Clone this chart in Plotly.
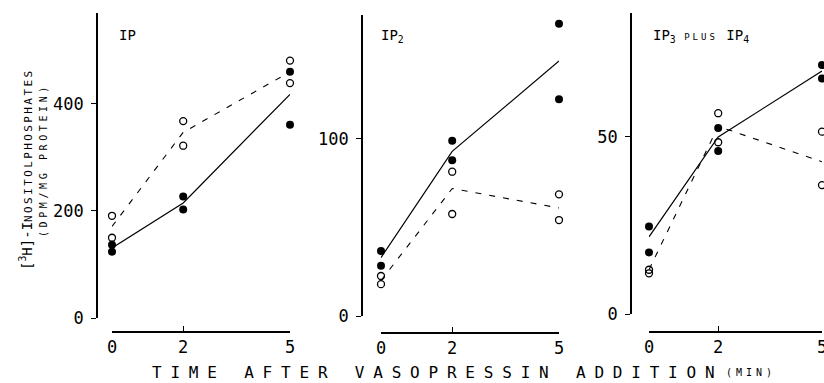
import plotly.graph_objects as go

W, H = 824, 383

# ---------------- data ----------------
point_times = [0, 0, 2, 2, 5, 5]
line_times = [0, 2, 5]
x_ticks = [0, 2, 5]

ip_filled = [137, 124, 227, 203, 460, 361]
ip_open = [191, 150, 368, 322, 481, 439]
ip_solid = [131, 215, 418]
ip_dashed = [171, 347, 460]

ip2_filled = [36.7, 28.4, 99, 88, 165, 122.4]
ip2_open = [22.6, 18, 81.5, 57.6, 68.7, 54.2]
ip2_solid = [33, 93, 144]
ip2_dashed = [20, 72, 61]

ip34_filled = [24.7, 17.4, 52.5, 46, 70.3, 66.5]
ip34_open = [12.5, 11.5, 56.7, 48.5, 51.5, 36.4]
ip34_solid = [21.8, 50, 68.6]
ip34_dashed = [12.5, 53, 43]

panel_titles = [
    "IP",
    "IP<sub>2</sub>",
    "IP<sub>3</sub> <span style='font-size:9px;letter-spacing:3px'>PLUS</span> IP<sub>4</sub>",
]
y_ticks = [[0, 200, 400], [0, 100], [0, 50]]
y_ranges = [[0, 570], [0, 170], [0, 85]]

y_title_1 = "[<sup>3</sup>H]-I<span style='font-size:11px;letter-spacing:2.4px'>NOSITOLPHOSPHATES</span>"
y_title_2 = "(DPM/MG PROTEIN)"
x_title = "TIME AFTER VASOPRESSIN ADDITION"
x_title_unit = "(MIN)"

# ---------------- geometry (pixels) ----------------
def px(x):
    return x / W


def py(y):
    return 1 - y / H


panels = [
    dict(x0=112, x1=290, yaxis_x=97, y0=318, y1=13, xline=332),
    dict(x0=381, x1=559, yaxis_x=362, y0=316, y1=15, xline=333),
    dict(x0=649, x1=822, yaxis_x=631, y0=314, y1=13, xline=332),
]

series = [
    (ip_filled, ip_open, ip_solid, ip_dashed),
    (ip2_filled, ip2_open, ip2_solid, ip2_dashed),
    (ip34_filled, ip34_open, ip34_solid, ip34_dashed),
]

FONT = "DejaVu Sans Mono"
fig = go.Figure()
layout = dict(
    template="none",
    width=W, height=H,
    margin=dict(l=0, r=0, t=0, b=0, pad=0, autoexpand=False),
    paper_bgcolor="white", plot_bgcolor="white",
    showlegend=False,
    font=dict(family=FONT, color="black"),
)
annotations = []

for i, (p, (filled, opn, solid, dashed)) in enumerate(zip(panels, series)):
    n = "" if i == 0 else str(i + 1)
    xa, ya = "x" + n, "y" + n
    fig.add_trace(go.Scatter(x=line_times, y=solid, xaxis=xa, yaxis=ya, mode="lines",
                             line=dict(color="black", width=1.2), cliponaxis=False))
    fig.add_trace(go.Scatter(x=line_times, y=dashed, xaxis=xa, yaxis=ya, mode="lines",
                             line=dict(color="black", width=1.1, dash="6px,8px"), cliponaxis=False))
    fig.add_trace(go.Scatter(x=point_times, y=filled, xaxis=xa, yaxis=ya, mode="markers",
                             marker=dict(symbol="circle", size=8, color="black"), cliponaxis=False))
    fig.add_trace(go.Scatter(x=point_times, y=opn, xaxis=xa, yaxis=ya, mode="markers",
                             marker=dict(symbol="circle-open", size=7, color="black",
                                         line=dict(width=1.3, color="black")), cliponaxis=False))

    layout["xaxis" + n] = dict(
        domain=[px(p["x0"]), px(p["x1"])], range=[0, 5],
        anchor="free", position=py(p["xline"]), automargin=False,
        tickvals=x_ticks, ticktext=[str(t) for t in x_ticks],
        ticks="inside", ticklen=5, tickwidth=1.3, tickcolor="black",
        ticklabeloverflow="allow",
        showline=True, linecolor="black", linewidth=1.6,
        showgrid=False, zeroline=False,
        tickfont=dict(family=FONT, size=17, color="black"),
    )
    layout["yaxis" + n] = dict(
        domain=[py(p["y0"]), py(p["y1"])], range=y_ranges[i],
        anchor="free", position=px(p["yaxis_x"]), automargin=False,
        tickvals=y_ticks[i], ticktext=[str(t) for t in y_ticks[i]],
        ticks="outside", ticklen=5, tickwidth=1.3, tickcolor="black",
        ticklabelstandoff=4, ticklabeloverflow="allow",
        showline=True, linecolor="black", linewidth=1.6,
        showgrid=False, zeroline=False,
        tickfont=dict(family=FONT, size=17, color="black"),
    )
    title_x = [117, 379, 651][i]
    annotations.append(dict(
        text=panel_titles[i], xref="paper", yref="paper",
        x=px(title_x), y=py(25), xanchor="left", yanchor="top",
        showarrow=False, font=dict(family=FONT, size=14, color="black"),
    ))

# y-axis title (two lines, rotated)
annotations.append(dict(
    text=y_title_1, xref="paper", yref="paper", x=px(26), y=py(170),
    xanchor="center", yanchor="middle", textangle=-90, showarrow=False,
    font=dict(family=FONT, size=14, color="black"),
))
annotations.append(dict(
    text="<span style='letter-spacing:3.6px'>" + y_title_2 + "</span>",
    xref="paper", yref="paper", x=px(43), y=py(160),
    xanchor="center", yanchor="middle", textangle=-90, showarrow=False,
    font=dict(family=FONT, size=10, color="black"),
))
# x-axis title
annotations.append(dict(
    text="<span style='letter-spacing:8.8px'>" + x_title + "</span>",
    xref="paper", yref="paper", x=px(150), y=py(372),
    xanchor="left", yanchor="middle", showarrow=False,
    font=dict(family=FONT, size=16, color="black"),
))
annotations.append(dict(
    text="<span style='letter-spacing:4px'>" + x_title_unit + "</span>",
    xref="paper", yref="paper", x=px(724), y=py(372),
    xanchor="left", yanchor="middle", showarrow=False,
    font=dict(family=FONT, size=10, color="black"),
))

layout["annotations"] = annotations
fig.update_layout(**layout)
fig.write_html(
    "out.html",
    config={"displayModeBar": False},
    post_script="document.body.style.margin='0';document.body.style.overflow='hidden';",
)
